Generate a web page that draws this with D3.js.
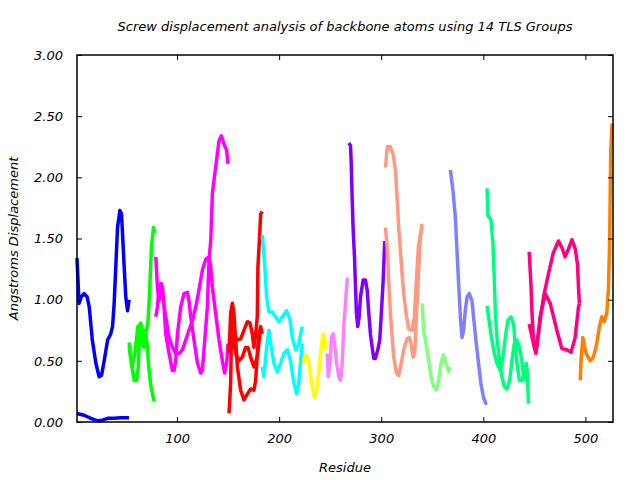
<!DOCTYPE html>
<html>
<head>
<meta charset="utf-8">
<script src="https://cdn.jsdelivr.net/npm/d3@7"></script>
<style>
  body { margin: 0; background: #fff; }
  text { font-family: "DejaVu Sans", sans-serif; font-style: italic; fill: #000; }
</style>
</head>
<body>
<svg id="chart" width="640" height="480"></svg>
<script>
// screw displacement per TLS group, [residue, displacement]
const grp1a = [[2,1.34],[4,0.97],[6,1.02],[9,1.05],[12,1.02],[14,0.94],[17,0.67],[20.5,0.48],[23.7,0.37],[26,0.38],[28.6,0.50],[32,0.67],[35,0.72],[36.8,0.78],[38.4,0.97],[40,1.27],[41.7,1.59],[44,1.73],[45.6,1.70],[46.6,1.54],[48.2,1.27],[49.8,1.02],[51.5,0.91],[53,1.0]];
const grp1b = [[2,0.07],[9,0.055],[15.6,0.03],[22,0.01],[27,0.015],[32,0.03],[38.4,0.03],[45,0.035],[53,0.035]];
const grp2a = [[53,0.65],[55,0.53],[56.4,0.42],[58,0.34],[60.3,0.34],[62,0.45],[63,0.67],[64.5,0.81],[66.2,0.72],[67.8,0.61],[69.4,0.72],[71.6,0.83],[73.3,1.10],[74.9,1.43],[76.9,1.59],[78.2,1.54]];
const grp2b = [[53,0.62],[55.7,0.45],[58.6,0.55],[61.6,0.78],[64,0.80],[66.5,0.62],[68.4,0.75],[70.4,0.66],[72.3,0.45],[74.3,0.30],[77.2,0.18],[78.2,0.19]];
const grp3a = [[79.2,1.35],[80.8,1.10],[82.4,0.99],[84.1,1.13],[85.7,1.10],[87.3,0.94],[88.9,0.72],[92.2,0.56],[95.5,0.42],[97.1,0.42],[98.7,0.50],[100.4,0.72],[103.6,0.94],[106.8,1.05],[110.2,1.06],[111.7,0.99],[113.4,0.86],[116.6,0.67],[120,0.48],[123.2,0.40],[124.8,0.42],[126.4,0.59],[129.7,0.94],[131.3,1.32],[133,1.48],[134.6,1.87],[137.8,2.08],[141.1,2.30],[143.4,2.34],[146,2.27],[148.6,2.22],[149.9,2.11]];
const grp3b = [[79.2,0.86],[80.8,0.94],[82.4,1.10],[84.7,1.13],[86.7,0.99],[88.9,0.86],[92.2,0.69],[95.5,0.61],[98.7,0.56],[102,0.56],[105.3,0.59],[108.5,0.67],[111.7,0.75],[115.1,0.83],[118.3,0.94],[121.5,1.08],[124.8,1.24],[128.1,1.33],[131.3,1.35],[133,1.27],[134.6,1.10],[137.8,0.89],[141.1,0.67],[144.4,0.50],[146.6,0.40],[148.6,0.48],[149.9,0.64]];
const grp4a = [[150.9,0.07],[152.5,0.32],[153.2,0.67],[154.2,0.86],[155.7,0.72],[159.1,0.67],[162.3,0.68],[165.5,0.75],[168.9,0.82],[171.4,0.81],[173.7,0.72],[175.3,0.61],[177,0.72],[178.6,0.86],[179.2,1.27],[180.6,1.48],[181.9,1.70],[183.5,1.72]];
const grp4b = [[150.9,0.56],[152.5,0.89],[154.2,0.97],[155.7,0.89],[157.4,0.67],[159.1,0.45],[162.3,0.26],[165.5,0.18],[168.9,0.23],[172.1,0.27],[175.3,0.26],[177,0.34],[178.6,0.56],[180.2,0.72],[181.9,0.78],[183.5,0.72]];
const grp4c = [[150.9,0.67],[154.2,0.72],[157.4,0.56],[160.6,0.50],[163.9,0.53],[167.2,0.61],[169.4,0.61],[172.1,0.53],[175.3,0.45],[178.6,0.53],[181.2,0.72]];
const grp5a = [[183.5,1.53],[185.8,1.29],[187.7,1.02],[190,0.90],[193.3,0.90],[196.5,0.86],[199.8,0.82],[203.1,0.86],[207.3,0.91],[210.5,0.84],[212.9,0.69],[216.1,0.59],[219.3,0.64],[221.7,0.75],[222.6,0.78]];
const grp5b = [[183.5,0.45],[185.1,0.37],[187.7,0.61],[190,0.75],[192.3,0.61],[194.9,0.48],[198.2,0.41],[201.4,0.48],[204.6,0.56],[208,0.59],[211.2,0.50],[214.4,0.32],[217.1,0.23],[219.3,0.32],[221,0.50],[222.6,0.64]];
const grp6a = [[223.6,0.48],[225.9,0.55],[228.1,0.53],[230.1,0.42],[232.4,0.29],[234.7,0.20],[236.6,0.26],[238.9,0.42],[241.2,0.61],[243.2,0.72],[244.7,0.67],[245.7,0.59]];
const grp7a = [[247.1,0.56],[248.1,0.37],[249.7,0.48],[251.3,0.69],[253,0.72],[254.3,0.64],[256.2,0.48],[258.5,0.37],[260.1,0.34],[261.8,0.48],[263.3,0.78],[265,0.97],[266.6,1.16],[267.2,1.18]];
const grp8a = [[268.2,2.28],[269.9,2.26],[270.6,2.11],[271.5,1.84],[272.5,1.57],[273.8,1.35],[274.8,1.10],[275.7,0.89],[277,0.78],[278.4,0.86],[279.6,1.02],[282.3,1.16],[284.5,1.16],[286.2,1.08],[287.8,0.89],[289.4,0.72],[291.1,0.61],[292.7,0.52],[294.3,0.52],[296.6,0.59],[298.5,0.67],[299.9,0.86],[301.9,1.16],[303.4,1.48]];
const grp9a = [[304.1,2.08],[305.1,2.17],[306,2.25],[309,2.25],[311.6,2.19],[313.9,2.06],[315.5,1.84],[317.1,1.59],[318.8,1.40],[320.4,1.21],[322,1.05],[324.3,0.89],[326.9,0.76],[330.2,0.75],[332.5,0.86],[334.4,1.16],[336.4,1.43],[340,1.62]];
const grp9b = [[304.1,1.59],[305.8,1.43],[307.3,1.16],[309,0.89],[310.7,0.69],[312.2,0.53],[314.9,0.40],[317.1,0.38],[319.5,0.48],[322,0.59],[325.3,0.68],[327.6,0.69],[329.2,0.64],[331.2,0.53],[332.8,0.56],[334.4,0.86],[336.7,1.24],[338.3,1.51],[340,1.59]];
const grp10a = [[340,0.97],[341.5,0.75],[343.9,0.64],[346.5,0.50],[348.8,0.37],[351.3,0.29],[354,0.26],[356.2,0.34],[358.6,0.48],[361.1,0.55],[363.5,0.48],[366,0.41],[367,0.45]];
const grp11a = [[367.7,2.06],[370.3,1.89],[372.6,1.67],[374.2,1.40],[375.8,1.13],[377.5,0.86],[379.1,0.69],[380.7,0.75],[382.3,0.91],[384,1.02],[386.2,1.05],[388.9,0.99],[390.4,0.86],[393.1,0.64],[395.3,0.48],[397.7,0.31],[400.2,0.20],[402.9,0.14]];
const grp12a = [[403.6,1.91],[404.5,1.69],[407.5,1.65],[409.4,1.46],[410.7,1.18],[411.7,0.91],[413.3,0.69],[415.9,0.50],[418.2,0.37],[420.5,0.29],[423.1,0.27],[425.7,0.34],[428,0.50],[430.3,0.64],[432.9,0.67],[435.4,0.61],[437.8,0.50],[439.3,0.37],[442,0.34],[443.2,0.37],[444.2,0.15]];
const grp12b = [[403.6,0.95],[405.1,0.86],[407.5,0.72],[410,0.59],[413.3,0.48],[416.6,0.42],[419.2,0.53],[421.5,0.69],[424.1,0.83],[427,0.86],[429.6,0.80],[431.2,0.64],[432.9,0.48],[435.4,0.34],[437.8,0.34],[440,0.40],[442,0.48],[443.6,0.37]];
const grp13a = [[444.9,1.39],[446.6,1.13],[447.6,0.90],[448.8,0.72],[450.3,0.60],[451.8,0.58],[453.7,0.70],[456.7,0.90],[459.6,1.05],[463.5,1.20],[468.4,1.38],[473.6,1.48],[477.2,1.42],[480.1,1.35],[483.7,1.42],[486.7,1.49],[489.9,1.42],[492.2,1.29],[493.2,1.10],[494.1,0.97]];
const grp13b = [[444.9,0.80],[449.1,0.64],[451.5,0.56],[455.7,0.86],[460.6,1.05],[465.5,0.97],[472,0.75],[476.9,0.60],[481.8,0.59],[486,0.57],[489.9,0.69],[493.2,0.94],[494.1,0.97]];
const grp14a = [[495,0.34],[495.5,0.48],[497.4,0.69],[498.7,0.64],[500.7,0.56],[504.6,0.50],[507.8,0.53],[511.1,0.64],[513.7,0.78],[516,0.86],[518.3,0.82],[520.9,0.89],[522.5,1.08],[523.5,1.40],[524.2,1.81],[524.8,2.22],[526.1,2.44]];

const groupColors = ["#0000ff", "#00ff00", "#ff00ff", "#ff0000", "#00ffff", "#ffff00", "#ff80ff",
  "#8000ff", "#ff9980", "#80ff80", "#8080ff", "#00ff80", "#ff0080", "#ff8000"];
const groups = [
  [grp1a, grp1b], [grp2a, grp2b], [grp3a, grp3b], [grp4a, grp4b, grp4c], [grp5a, grp5b],
  [grp6a], [grp7a], [grp8a], [grp9a, grp9b], [grp10a], [grp11a], [grp12a, grp12b],
  [grp13a, grp13b], [grp14a]
];
const xTicks = [100, 200, 300, 400, 500];
const yTicks = [0, 0.5, 1, 1.5, 2, 2.5, 3];

const margin = { top: 55, right: 27, bottom: 58, left: 77 };
const width = 640 - margin.left - margin.right;
const height = 480 - margin.top - margin.bottom;

const svg = d3.select("#chart");
const g = svg.append("g").attr("transform", `translate(${margin.left},${margin.top})`);

const x = d3.scaleLinear().domain([2, 527]).range([0, width]);
const y = d3.scaleLinear().domain([0, 3]).range([height, 0]);

const line = d3.line().x(d => x(d[0])).y(d => y(d[1]));

groups.forEach((curves, i) => {
  curves.forEach(c => {
    g.append("path")
      .datum(c)
      .attr("d", line)
      .attr("fill", "none")
      .attr("stroke", groupColors[i])
      .attr("stroke-width", 3.5)
      .attr("stroke-linejoin", "round");
  });
});

// axes, ticks pointing inward on all four sides
const xBottom = g.append("g").attr("transform", `translate(0,${height})`)
  .call(d3.axisBottom(x).tickValues(xTicks).tickSizeInner(-5).tickSizeOuter(0).tickPadding(12));
const xTop = g.append("g")
  .call(d3.axisTop(x).tickValues(xTicks).tickSizeInner(-5).tickSizeOuter(0).tickFormat(""));
const yLeft = g.append("g")
  .call(d3.axisLeft(y).tickValues(yTicks).tickSizeInner(-5).tickSizeOuter(0).tickPadding(14).tickFormat(d3.format(".2f")));
const yRight = g.append("g").attr("transform", `translate(${width},0)`)
  .call(d3.axisRight(y).tickValues(yTicks).tickSizeInner(-5).tickSizeOuter(0).tickFormat(""));

[xBottom, xTop, yLeft, yRight].forEach(a => {
  a.select(".domain").remove();
  a.selectAll("line").attr("stroke", "#000");
  a.selectAll("text").style("font-size", "13px").style("font-family", "DejaVu Sans").style("font-style", "italic");
});

g.append("rect")
  .attr("width", width).attr("height", height)
  .attr("fill", "none").attr("stroke", "#000").attr("stroke-width", 1.5);

svg.append("text")
  .attr("x", margin.left + width / 2).attr("y", 31)
  .attr("text-anchor", "middle").style("font-size", "13px")
  .text("Screw displacement analysis of backbone atoms using 14 TLS Groups");

svg.append("text")
  .attr("x", margin.left + width / 2).attr("y", 472)
  .attr("text-anchor", "middle").style("font-size", "13px")
  .text("Residue");

svg.append("text")
  .attr("transform", `translate(18,${margin.top + height / 2}) rotate(-90)`)
  .attr("text-anchor", "middle").style("font-size", "13px")
  .text("Angstroms Displacement");
</script>
</body>
</html>
